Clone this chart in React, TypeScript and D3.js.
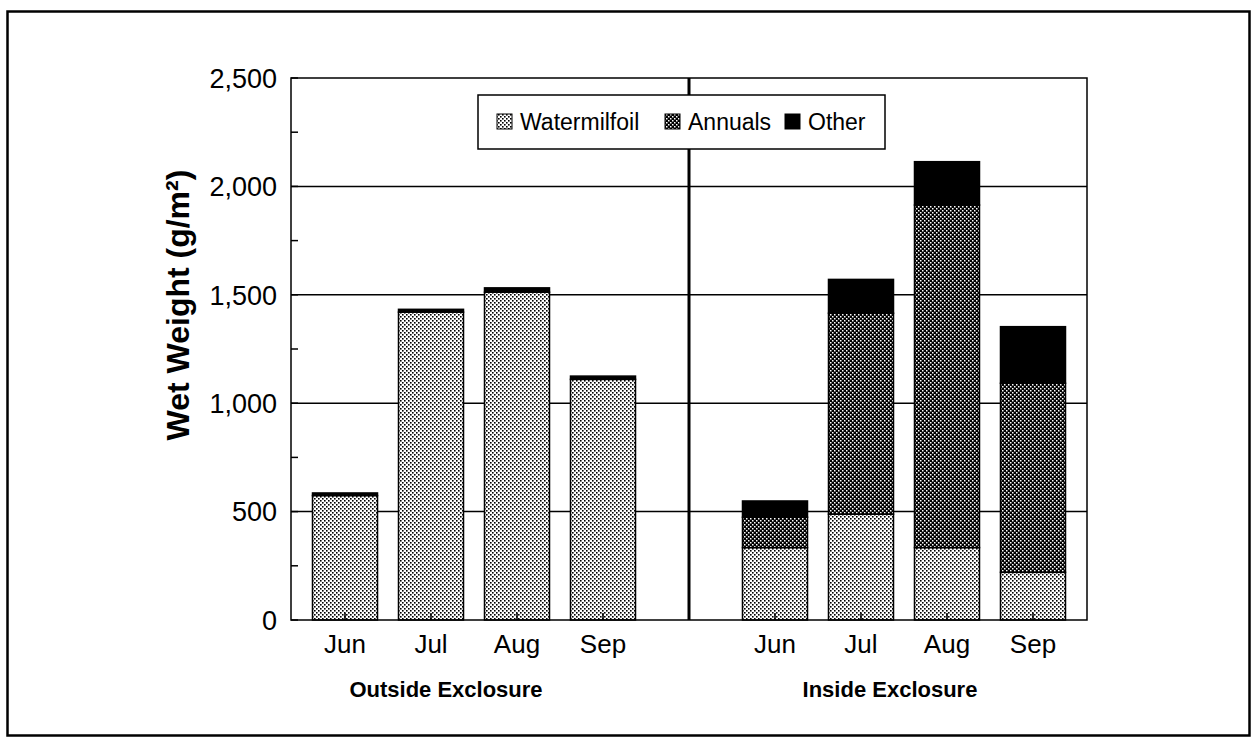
import React from "react";
import * as d3 from "d3";

// values (g/m²)
const months = ["Jun", "Jul", "Aug", "Sep"];
const groupNames = ["Outside Exclosure", "Inside Exclosure"];
const seriesNames = ["Watermilfoil", "Annuals", "Other"];

const outsideWatermilfoil = [574, 1420, 1512, 1110];
const outsideAnnuals = [0, 0, 0, 0];
const outsideOther = [12, 13, 20, 15];

const insideWatermilfoil = [334, 488, 334, 220];
const insideAnnuals = [140, 927, 1580, 872];
const insideOther = [75, 156, 200, 261];

const yTicks = [0, 500, 1000, 1500, 2000, 2500];
const yMinorTicks = [250, 750, 1250, 1750, 2250];

const W = 1252;
const H = 738;
const plot = { left: 291, right: 1087, top: 78, bottom: 620 };
const font = "'Liberation Sans', Arial, Helvetica, sans-serif";

const fills: Record<string, string> = {
  Watermilfoil: "url(#patLight)",
  Annuals: "url(#patDark)",
  Other: "#000",
};

type Row = { key: string; month: string; Watermilfoil: number; Annuals: number; Other: number };

const rows: Row[] = [
  ...months.map((m, i) => ({
    key: "out-" + m,
    month: m,
    Watermilfoil: outsideWatermilfoil[i],
    Annuals: outsideAnnuals[i],
    Other: outsideOther[i],
  })),
  ...months.map((m, i) => ({
    key: "in-" + m,
    month: m,
    Watermilfoil: insideWatermilfoil[i],
    Annuals: insideAnnuals[i],
    Other: insideOther[i],
  })),
];

const slots = [...months.map((m) => "out-" + m), "gap", ...months.map((m) => "in-" + m)];

export default function App() {
  const x = d3
    .scaleBand<string>()
    .domain(slots)
    .range([plot.left, plot.right])
    .paddingInner(0.244)
    .paddingOuter(0.25);
  const y = d3.scaleLinear().domain([0, 2500]).range([plot.bottom, plot.top]);
  const stacked = d3.stack<Row>().keys(seriesNames)(rows);
  const bw = x.bandwidth();
  const cx = (k: string) => (x(k) as number) + bw / 2;
  const dividerX = cx("gap");
  const fmt = d3.format(",");

  const outCenter = (cx("out-Jun") + cx("out-Sep")) / 2 - 28;
  const inCenter = (cx("in-Jun") + cx("in-Sep")) / 2 - 14;

  const legendItems = [
    { name: "Watermilfoil", x: 497 },
    { name: "Annuals", x: 665 },
    { name: "Other", x: 785 },
  ];

  return (
    <svg
      width={W}
      height={H}
      style={{ position: "absolute", left: 0, top: 0, display: "block", background: "#fff" }}
      fontFamily={font}
    >
      <defs>
        <pattern id="patLight" width="4" height="4" patternUnits="userSpaceOnUse">
          <rect width="4" height="4" fill="#fff" />
          <rect x="0" y="0" width="1.6" height="1.6" fill="#000" />
          <rect x="2" y="2" width="1.6" height="1.6" fill="#000" />
        </pattern>
        <pattern id="patDark" width="4" height="4" patternUnits="userSpaceOnUse">
          <rect width="4" height="4" fill="#000" />
          <rect x="0" y="0" width="1.5" height="1.5" fill="#fff" />
          <rect x="2" y="2" width="1.5" height="1.5" fill="#fff" />
        </pattern>
      </defs>

      {/* outer frame */}
      <rect x={7.5} y={11.5} width={1242} height={724} fill="none" stroke="#000" strokeWidth={2.5} />

      {/* gridlines */}
      {yTicks.slice(1, -1).map((t) => (
        <line key={t} x1={plot.left} x2={plot.right} y1={y(t)} y2={y(t)} stroke="#000" strokeWidth={1.5} />
      ))}

      {/* bars */}
      {stacked.map((layer) => (
        <g key={layer.key}>
          {layer.map((d, i) =>
            d[1] - d[0] > 0 ? (
              <rect
                key={rows[i].key}
                x={x(rows[i].key)}
                width={bw}
                y={y(d[1])}
                height={y(d[0]) - y(d[1])}
                fill={fills[layer.key]}
                stroke="#000"
                strokeWidth={1.5}
              />
            ) : null
          )}
        </g>
      ))}

      {/* x ticks */}
      {rows.map((r) => (
        <line key={r.key} x1={cx(r.key)} x2={cx(r.key)} y1={plot.bottom} y2={plot.bottom - 7} stroke="#000" strokeWidth={1.5} />
      ))}

      {/* y ticks */}
      {[...yTicks, ...yMinorTicks].map((t) => (
        <line key={t} x1={plot.left} x2={plot.left + 7} y1={y(t)} y2={y(t)} stroke="#000" strokeWidth={1.5} />
      ))}

      {/* plot frame and divider */}
      <rect
        x={plot.left}
        y={plot.top}
        width={plot.right - plot.left}
        height={plot.bottom - plot.top}
        fill="none"
        stroke="#000"
        strokeWidth={1.5}
      />
      <line x1={dividerX} x2={dividerX} y1={plot.top} y2={plot.bottom} stroke="#000" strokeWidth={3} />

      {/* y tick labels */}
      {yTicks.map((t) => (
        <text key={t} x={277} y={y(t)} dy="0.36em" textAnchor="end" fontSize={27}>
          {fmt(t)}
        </text>
      ))}

      {/* y title */}
      <text
        transform="translate(189,305) rotate(-90)"
        textAnchor="middle"
        fontSize={32}
        fontWeight="bold"
      >
        Wet Weight (g/m²)
      </text>

      {/* month labels */}
      {rows.map((r) => (
        <text key={r.key} x={cx(r.key)} y={653} textAnchor="middle" fontSize={26}>
          {r.month}
        </text>
      ))}

      {/* group labels */}
      <text x={outCenter} y={697} textAnchor="middle" fontSize={22} fontWeight="bold">
        {groupNames[0]}
      </text>
      <text x={inCenter} y={697} textAnchor="middle" fontSize={22} fontWeight="bold">
        {groupNames[1]}
      </text>

      {/* legend */}
      <rect x={478} y={95} width={407} height={54} fill="#fff" stroke="#000" strokeWidth={1.5} />
      {legendItems.map((it) => (
        <g key={it.name}>
          <rect x={it.x} y={114} width={15} height={15} fill={fills[it.name]} stroke="#000" strokeWidth={1} />
          <text x={it.x + 23} y={130} fontSize={23}>
            {it.name}
          </text>
        </g>
      ))}
    </svg>
  );
}
